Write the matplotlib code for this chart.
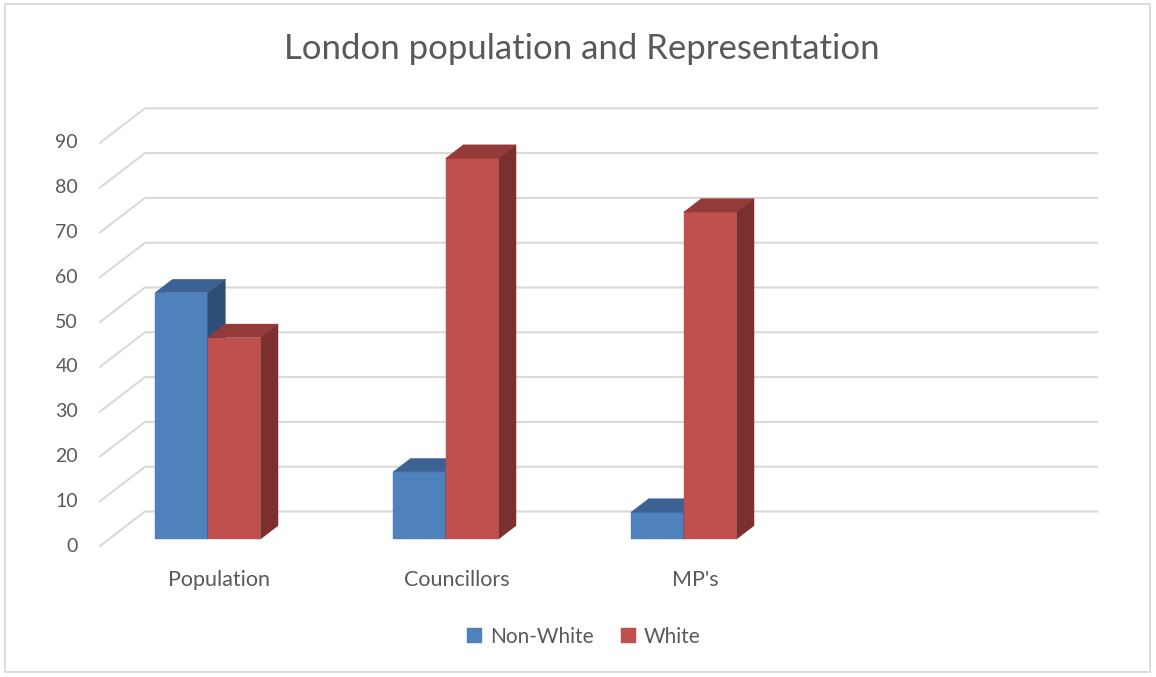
import numpy as np
import matplotlib
matplotlib.use("Agg")
import matplotlib.pyplot as plt
from matplotlib.patches import Polygon, Rectangle

# ---------------- data ----------------
categories = ["Population", "Councillors", "MP's"]
series_names = ["Non-White", "White"]
non_white = [55, 15, 6]
white = [45, 85, 73]
y_ticks = [0, 10, 20, 30, 40, 50, 60, 70, 80, 90]
title = "London population and Representation"

# ---------------- style ----------------
plt.rcParams['font.family'] = ['Lato', 'DejaVu Sans']
TEXT = "#595959"
GRID = "#d9d9d9"
front_cols = ["#4F81BD", "#C0504D"]
top_cols = ["#3B6293", "#943B39"]
side_cols = ["#2F4E75", "#7B2F2E"]

W, H, DPI = 1156, 677, 100
fig = plt.figure(figsize=(W / DPI, H / DPI), dpi=DPI)
ax = fig.add_axes([0, 0, 1, 1])

# pixel mapping of the oblique "3D" projection (front floor plane)
PX_CAT = 238.0      # pixels per category
PX_VAL = 4.48       # pixels per value unit
X0 = 219.0          # pixel x of first category centre at the front
Y0 = 546.0          # pixel y (from top) of value 0 at the front
ax.set_xlim(-X0 / PX_CAT, (W - X0) / PX_CAT)
ax.set_ylim((Y0 - H) / PX_VAL, Y0 / PX_VAL)
ax.axis('off')

DDX = 45.0 / PX_CAT     # full depth shift in x (category units)
DDY = 34.5 / PX_VAL     # full depth shift in y (value units)
n_slots = len(categories) + 1   # chart has one empty category slot
floor_l, floor_r = -0.5, n_slots - 0.5

# gridlines: side wall diagonal + back wall horizontal
for v in y_ticks:
    ax.plot([floor_l, floor_l + DDX, floor_r + DDX], [v, v + DDY, v + DDY],
            color=GRID, lw=1.5, zorder=1, solid_joinstyle='miter')
    ax.text(floor_l - 0.092, v, str(v), ha='right', va='center',
            fontsize=14, color=TEXT)

# bars
F0, F1 = 0.20, 0.59          # depth fractions of bar front / back faces
BAR_W = 52.7 / PX_CAT
GROUP_SHIFT = -0.085
ddx = DDX * (F1 - F0)
ddy = DDY * (F1 - F0)
y_base = DDY * F0
x_idx = np.arange(len(categories))

for s, (vals, name) in enumerate(zip([non_white, white], series_names)):
    xc = x_idx + GROUP_SHIFT + DDX * F0 + (s - 0.5) * BAR_W
    z = 2 + s
    ax.bar(xc, vals, width=BAR_W, bottom=y_base, color=front_cols[s],
           edgecolor=front_cols[s], lw=0.3, label=name, zorder=z)
    for x, v in zip(xc, vals):
        xl, xr = x - BAR_W / 2, x + BAR_W / 2
        top = y_base + v
        ax.add_patch(Polygon([(xl, top), (xr, top), (xr + ddx, top + ddy),
                              (xl + ddx, top + ddy)], closed=True,
                             facecolor=top_cols[s], edgecolor=top_cols[s],
                             lw=0.3, zorder=z))
        ax.add_patch(Polygon([(xr, y_base), (xr + ddx, y_base + ddy),
                              (xr + ddx, top + ddy), (xr, top)], closed=True,
                             facecolor=side_cols[s], edgecolor=side_cols[s],
                             lw=0.3, zorder=z))

# category labels
for i, c in enumerate(categories):
    ax.text(i, (Y0 - 580) / PX_VAL, c, ha='center', va='center',
            fontsize=15.5, color=TEXT)

# title
fig.text(582 / W, 1 - 49 / H, title, ha='center', va='center',
         fontsize=25, color=TEXT)

# legend
fig.legend(loc='center', bbox_to_anchor=(584 / W, 1 - 637 / H), ncol=2,
           frameon=False, handlelength=0.7, handleheight=0.7,
           handletextpad=0.4, columnspacing=1.3, fontsize=15,
           labelcolor=TEXT)

# chart border
fig.add_artist(Rectangle((5 / W, 5 / H), 1145 / W, 668 / H,
                         transform=fig.transFigure, fill=False,
                         edgecolor=GRID, lw=1.3))

fig.savefig("out.png", dpi=DPI)
